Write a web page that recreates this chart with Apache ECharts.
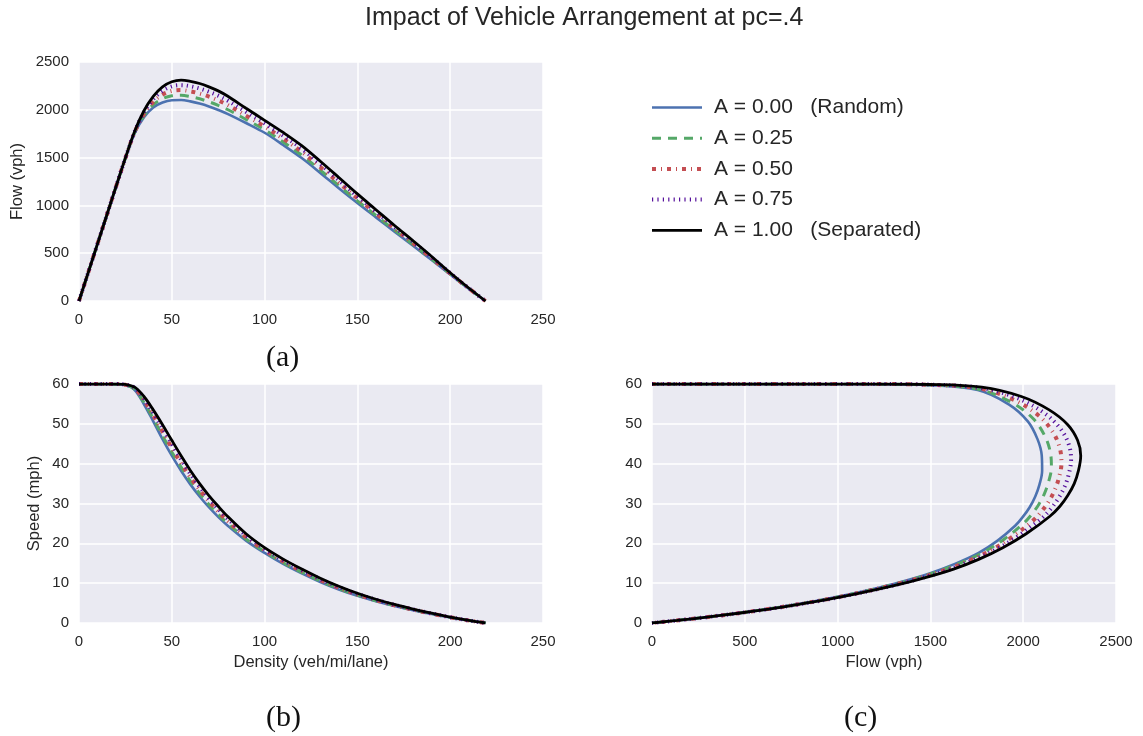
<!DOCTYPE html>
<html>
<head>
<meta charset="utf-8">
<script src="https://cdn.jsdelivr.net/npm/echarts@6/dist/echarts.min.js"></script>
<style>
html,body{margin:0;padding:0;background:#fff;}
#chart{width:1143px;height:736px;}
</style>
</head>
<body>
<div id="chart"></div>
<script>
// ---- data ----
const density = [0,5,10,15,20,25,30,35,40,45,50,55,60,65,70,75,80,90,100,110,120,130,140,150,160,170,180,190,200,210,219];

const speedA000 = [60,60,60,60,59.95,59.72,58.5,54.91,50.63,46.16,42.0,38.22,34.8,31.77,29.07,26.64,24.48,20.69,17.6,14.84,12.46,10.31,8.43,6.83,5.47,4.27,3.21,2.25,1.39,0.61,0];
const speedA025 = [60,60,60,60,59.95,59.76,58.67,55.37,51.33,47.02,42.92,39.13,35.63,32.54,29.77,27.28,25.04,21.1,17.91,15.12,12.72,10.53,8.62,6.99,5.59,4.36,3.28,2.3,1.41,0.62,0];
const speedA050 = [60,60,60,60,60,59.8,58.87,55.89,52.08,47.98,43.94,40.11,36.55,33.38,30.54,27.97,25.64,21.54,18.25,15.44,13.0,10.78,8.83,7.15,5.72,4.46,3.36,2.35,1.44,0.63,0];
const speedA075 = [60,60,60,60,60,59.84,59.03,56.37,52.78,48.87,44.9,41.05,37.43,34.2,31.27,28.64,26.23,21.98,18.58,15.73,13.28,11.02,9.03,7.31,5.84,4.55,3.43,2.41,1.46,0.64,0];
const speedA100 = [60,60,60,60,60,59.88,59.2,56.86,53.5,49.78,45.86,42.0,38.3,35.0,32.0,29.31,26.8,22.4,18.9,16.03,13.54,11.25,9.23,7.47,5.97,4.65,3.5,2.45,1.48,0.65,0];

const flowA000 = [0,300,600,900,1199,1493,1755,1922,2025,2077,2100,2102,2088,2065,2035,1998,1958,1862,1760,1632,1495,1340,1180,1025,875,726,577,428,278,128,0];
const flowA025 = [0,300,600,900,1199,1494,1760,1938,2053,2116,2146,2152,2138,2115,2084,2046,2003,1899,1791,1663,1526,1369,1207,1048,894,741,590,437,282,130,0];
const flowA050 = [0,300,600,900,1200,1495,1766,1956,2083,2159,2197,2206,2193,2170,2138,2098,2051,1939,1825,1698,1560,1401,1236,1073,915,758,604,447,287,132,0];
const flowA075 = [0,300,600,900,1200,1496,1771,1973,2111,2199,2245,2258,2246,2223,2189,2148,2098,1978,1858,1730,1593,1432,1264,1096,935,774,617,457,292,134,0];
const flowA100 = [0,300,600,900,1200,1497,1776,1990,2140,2240,2293,2310,2298,2275,2240,2198,2144,2016,1890,1763,1625,1462,1292,1120,955,790,630,466,296,136,0];

const seriesNames = ['A = 0.00   (Random)','A = 0.25','A = 0.50','A = 0.75','A = 1.00   (Separated)'];
const chartTitle = 'Impact of Vehicle Arrangement at pc=.4';
const panelLabels = ['(a)','(b)','(c)'];

// ---- styles ----
const speeds = [speedA000,speedA025,speedA050,speedA075,speedA100];
const flows = [flowA000,flowA025,flowA050,flowA075,flowA100];
const lineStyles = [
  {color:'#4C72B0', width:2.6, type:'solid'},
  {color:'#55A868', width:3, type:[9,7]},
  {color:'#C44E52', width:4, type:[4,5,1,5]},
  {color:'#56119C', width:4, type:[1.2,4.2]},
  {color:'#000000', width:2.8, type:'solid'}
];
const FONT = '"Liberation Sans", Arial, sans-serif';
const TXT = '#262626';

function pairs(xs, ys){ return xs.map((x,i)=>[x, ys[i]]); }
const plain = v => String(v);

const grids = [
  {left:79, top:62, width:464, height:239},
  {left:79, top:384, width:464, height:239},
  {left:652, top:384, width:464, height:239}
];
grids.forEach(g=>{ g.backgroundColor='#EAEAF2'; g.show=true; g.borderWidth=0; });

function xAx(gi, max, interval, name){
  return {
    type:'value', gridIndex:gi, min:0, max:max, interval:interval,
    name:name||'', nameLocation:'middle', nameGap:31,
    nameTextStyle:{fontFamily:FONT, fontSize:16.5, color:TXT},
    axisLine:{show:false}, axisTick:{show:false},
    axisLabel:{fontFamily:FONT, fontSize:15, color:TXT, margin:11, formatter:plain},
    splitLine:{show:true, lineStyle:{color:'#ffffff', width:1.5}}
  };
}
function yAx(gi, max, interval, name, gap){
  return {
    type:'value', gridIndex:gi, min:0, max:max, interval:interval,
    name:name||'', nameLocation:'middle', nameGap:gap||40,
    nameTextStyle:{fontFamily:FONT, fontSize:16.5, color:TXT},
    axisLine:{show:false}, axisTick:{show:false},
    axisLabel:{fontFamily:FONT, fontSize:15, color:TXT, margin:10, formatter:plain},
    splitLine:{show:true, lineStyle:{color:'#ffffff', width:1.5}}
  };
}

const series = [];
for (let p=0; p<3; p++){
  for (let i=0;i<5;i++){
    let data;
    if (p===0) data = pairs(density, flows[i]);
    else if (p===1) data = pairs(density, speeds[i]);
    else data = pairs(flows[i], speeds[i]);
    series.push({
      name: seriesNames[i], type:'line', xAxisIndex:p, yAxisIndex:p,
      data: data, showSymbol:false, symbol:'none', smooth:0.35,
      lineStyle: Object.assign({cap:'butt'}, lineStyles[i]),
      itemStyle:{color:lineStyles[i].color},
      emphasis:{disabled:true}, animation:false, z: 2+i
    });
  }
}

const chart = echarts.init(document.getElementById('chart'), null, {renderer:'canvas'});
chart.setOption({
  animation:false,
  backgroundColor:'#ffffff',
  title:{text:chartTitle, left:360, top:1, textStyle:{fontFamily:FONT, fontSize:25, fontWeight:'normal', color:TXT}},
  legend:{
    data:seriesNames, orient:'vertical', left:650, top:97, padding:0,
    itemWidth:50, itemHeight:14, itemGap:9.7,
    itemStyle:{opacity:0},
    lineStyle:{width:'inherit', type:'inherit'},
    textStyle:{fontFamily:FONT, fontSize:21, color:TXT, padding:[0,0,0,7]},
    selectedMode:false
  },
  grid:grids,
  xAxis:[xAx(0,250,50,''), xAx(1,250,50,'Density (veh/mi/lane)'), xAx(2,2500,500,'Flow (vph)')],
  yAxis:[yAx(0,2500,500,'Flow (vph)',53), yAx(1,60,10,'Speed (mph)',36), yAx(2,60,10,'',40)],
  graphic:[
    {type:'text', left:266, top:343, style:{text:panelLabels[0], font:'30px "Liberation Serif", "DejaVu Serif", serif', fill:'#111'}},
    {type:'text', left:266, top:703, style:{text:panelLabels[1], font:'30px "Liberation Serif", "DejaVu Serif", serif', fill:'#111'}},
    {type:'text', left:844, top:703, style:{text:panelLabels[2], font:'30px "Liberation Serif", "DejaVu Serif", serif', fill:'#111'}}
  ],
  series:series
});
</script>
</body>
</html>
